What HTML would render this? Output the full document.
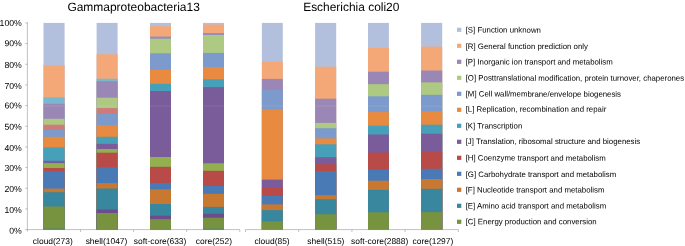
<!DOCTYPE html>
<html><head><meta charset="utf-8"><title>COG distribution</title>
<style>html,body{margin:0;padding:0;background:#fff}svg{display:block}text{text-rendering:geometricPrecision;font-family:"Liberation Sans",sans-serif;fill:#000}</style></head>
<body>
<svg width="685" height="246" viewBox="0 0 685 246">
<rect width="685" height="246" fill="#fff"/>
<text x="67.4" y="11.00" transform="rotate(0.03 67.4 11.00)" font-size="11.97">Gammaproteobacteria13</text>
<text x="303.2" y="11.00" transform="rotate(0.03 303.2 11.00)" font-size="11.95">Escherichia coli20</text>
<g>
<rect x="43.5" y="22.90" width="21.1" height="206.70" fill="#B3C0DD"/>
<rect x="43.5" y="65.30" width="21.1" height="164.30" fill="#F4A878"/>
<rect x="43.5" y="97.30" width="21.1" height="132.30" fill="#7AB8CF"/>
<rect x="43.5" y="103.80" width="21.1" height="125.80" fill="#9B87B5"/>
<rect x="43.5" y="118.80" width="21.1" height="110.80" fill="#AECA82"/>
<rect x="43.5" y="124.70" width="21.1" height="104.90" fill="#CF7B79"/>
<rect x="43.5" y="129.60" width="21.1" height="100.00" fill="#7C9ACB"/>
<rect x="43.5" y="136.80" width="21.1" height="92.80" fill="#E88B40"/>
<rect x="43.5" y="147.40" width="21.1" height="82.20" fill="#46A0BA"/>
<rect x="43.5" y="160.80" width="21.1" height="68.80" fill="#7A5C9B"/>
<rect x="43.5" y="163.10" width="21.1" height="66.50" fill="#92B050"/>
<rect x="43.5" y="168.00" width="21.1" height="61.60" fill="#B84A47"/>
<rect x="43.5" y="171.30" width="21.1" height="58.30" fill="#4A7AB5"/>
<rect x="43.5" y="188.60" width="21.1" height="41.00" fill="#C97832"/>
<rect x="43.5" y="192.20" width="21.1" height="37.40" fill="#38879F"/>
<rect x="43.5" y="206.50" width="21.1" height="23.10" fill="#77933F"/>
<rect x="43.5" y="228.75" width="21.1" height="0.85" fill="#4170A8"/>
</g>
<g>
<rect x="96.6" y="22.90" width="21.0" height="206.70" fill="#B3C0DD"/>
<rect x="96.6" y="54.30" width="21.0" height="175.30" fill="#F4A878"/>
<rect x="96.6" y="78.70" width="21.0" height="150.90" fill="#7AB8CF"/>
<rect x="96.6" y="81.30" width="21.0" height="148.30" fill="#9B87B5"/>
<rect x="96.6" y="97.70" width="21.0" height="131.90" fill="#AECA82"/>
<rect x="96.6" y="108.10" width="21.0" height="121.50" fill="#CF7B79"/>
<rect x="96.6" y="113.90" width="21.0" height="115.70" fill="#7C9ACB"/>
<rect x="96.6" y="125.50" width="21.0" height="104.10" fill="#E88B40"/>
<rect x="96.6" y="136.80" width="21.0" height="92.80" fill="#46A0BA"/>
<rect x="96.6" y="143.90" width="21.0" height="85.70" fill="#7A5C9B"/>
<rect x="96.6" y="149.00" width="21.0" height="80.60" fill="#92B050"/>
<rect x="96.6" y="152.70" width="21.0" height="76.90" fill="#B84A47"/>
<rect x="96.6" y="167.20" width="21.0" height="62.40" fill="#4A7AB5"/>
<rect x="96.6" y="183.10" width="21.0" height="46.50" fill="#C97832"/>
<rect x="96.6" y="188.50" width="21.0" height="41.10" fill="#38879F"/>
<rect x="96.6" y="209.50" width="21.0" height="20.10" fill="#6C4C8B"/>
<rect x="96.6" y="213.00" width="21.0" height="16.60" fill="#77933F"/>
</g>
<g>
<rect x="150" y="22.90" width="21.0" height="206.70" fill="#B3C0DD"/>
<rect x="150" y="26.20" width="21.0" height="203.40" fill="#F4A878"/>
<rect x="150" y="36.60" width="21.0" height="193.00" fill="#8E8CC2"/>
<rect x="150" y="38.70" width="21.0" height="190.90" fill="#AECA82"/>
<rect x="150" y="53.30" width="21.0" height="176.30" fill="#7C9ACB"/>
<rect x="150" y="69.90" width="21.0" height="159.70" fill="#E88B40"/>
<rect x="150" y="83.80" width="21.0" height="145.80" fill="#46A0BA"/>
<rect x="150" y="91.00" width="21.0" height="138.60" fill="#7A5C9B"/>
<rect x="150" y="157.00" width="21.0" height="72.60" fill="#92B050"/>
<rect x="150" y="166.80" width="21.0" height="62.80" fill="#B84A47"/>
<rect x="150" y="182.90" width="21.0" height="46.70" fill="#4A7AB5"/>
<rect x="150" y="189.30" width="21.0" height="40.30" fill="#C97832"/>
<rect x="150" y="204.00" width="21.0" height="25.60" fill="#38879F"/>
<rect x="150" y="215.70" width="21.0" height="13.90" fill="#6C4C8B"/>
<rect x="150" y="219.10" width="21.0" height="10.50" fill="#77933F"/>
</g>
<g>
<rect x="203" y="22.90" width="21.0" height="206.70" fill="#B3C0DD"/>
<rect x="203" y="24.50" width="21.0" height="205.10" fill="#F4A878"/>
<rect x="203" y="33.10" width="21.0" height="196.50" fill="#8E8CC2"/>
<rect x="203" y="35.00" width="21.0" height="194.60" fill="#AECA82"/>
<rect x="203" y="52.90" width="21.0" height="176.70" fill="#7C9ACB"/>
<rect x="203" y="67.00" width="21.0" height="162.60" fill="#E88B40"/>
<rect x="203" y="79.30" width="21.0" height="150.30" fill="#46A0BA"/>
<rect x="203" y="87.10" width="21.0" height="142.50" fill="#7A5C9B"/>
<rect x="203" y="163.30" width="21.0" height="66.30" fill="#92B050"/>
<rect x="203" y="170.80" width="21.0" height="58.80" fill="#B84A47"/>
<rect x="203" y="186.00" width="21.0" height="43.60" fill="#4A7AB5"/>
<rect x="203" y="193.80" width="21.0" height="35.80" fill="#C97832"/>
<rect x="203" y="206.90" width="21.0" height="22.70" fill="#38879F"/>
<rect x="203" y="213.80" width="21.0" height="15.80" fill="#6C4C8B"/>
<rect x="203" y="217.70" width="21.0" height="11.90" fill="#77933F"/>
<rect x="203" y="228.75" width="21.0" height="0.85" fill="#4170A8"/>
</g>
<g>
<rect x="261.9" y="22.90" width="20.9" height="206.70" fill="#B3C0DD"/>
<rect x="261.9" y="61.90" width="20.9" height="167.70" fill="#F4A878"/>
<rect x="261.9" y="78.90" width="20.9" height="150.70" fill="#9B87B5"/>
<rect x="261.9" y="89.50" width="20.9" height="140.10" fill="#7C9ACB"/>
<rect x="261.9" y="109.30" width="20.9" height="120.30" fill="#E88B40"/>
<rect x="261.9" y="179.60" width="20.9" height="50.00" fill="#7A5C9B"/>
<rect x="261.9" y="187.80" width="20.9" height="41.80" fill="#B84A47"/>
<rect x="261.9" y="196.00" width="20.9" height="33.60" fill="#4A7AB5"/>
<rect x="261.9" y="204.40" width="20.9" height="25.20" fill="#C97832"/>
<rect x="261.9" y="210.10" width="20.9" height="19.50" fill="#38879F"/>
<rect x="261.9" y="221.40" width="20.9" height="8.20" fill="#77933F"/>
</g>
<g>
<rect x="315.1" y="22.90" width="21.1" height="206.70" fill="#B3C0DD"/>
<rect x="315.1" y="66.70" width="21.1" height="162.90" fill="#F4A878"/>
<rect x="315.1" y="98.70" width="21.1" height="130.90" fill="#9B87B5"/>
<rect x="315.1" y="122.90" width="21.1" height="106.70" fill="#AECA82"/>
<rect x="315.1" y="128.20" width="21.1" height="101.40" fill="#7C9ACB"/>
<rect x="315.1" y="138.40" width="21.1" height="91.20" fill="#E88B40"/>
<rect x="315.1" y="144.30" width="21.1" height="85.30" fill="#46A0BA"/>
<rect x="315.1" y="157.20" width="21.1" height="72.40" fill="#7A5C9B"/>
<rect x="315.1" y="164.30" width="21.1" height="65.30" fill="#B84A47"/>
<rect x="315.1" y="171.00" width="21.1" height="58.60" fill="#4A7AB5"/>
<rect x="315.1" y="195.20" width="21.1" height="34.40" fill="#C97832"/>
<rect x="315.1" y="199.20" width="21.1" height="30.40" fill="#38879F"/>
<rect x="315.1" y="214.20" width="21.1" height="15.40" fill="#77933F"/>
</g>
<g>
<rect x="368" y="22.90" width="20.9" height="206.70" fill="#B3C0DD"/>
<rect x="368" y="47.80" width="20.9" height="181.80" fill="#F4A878"/>
<rect x="368" y="71.70" width="20.9" height="157.90" fill="#9B87B5"/>
<rect x="368" y="84.20" width="20.9" height="145.40" fill="#AECA82"/>
<rect x="368" y="96.30" width="20.9" height="133.30" fill="#7C9ACB"/>
<rect x="368" y="112.10" width="20.9" height="117.50" fill="#E88B40"/>
<rect x="368" y="125.70" width="20.9" height="103.90" fill="#46A0BA"/>
<rect x="368" y="134.50" width="20.9" height="95.10" fill="#7A5C9B"/>
<rect x="368" y="152.50" width="20.9" height="77.10" fill="#B84A47"/>
<rect x="368" y="169.40" width="20.9" height="60.20" fill="#4A7AB5"/>
<rect x="368" y="180.70" width="20.9" height="48.90" fill="#C97832"/>
<rect x="368" y="189.90" width="20.9" height="39.70" fill="#38879F"/>
<rect x="368" y="212.30" width="20.9" height="17.30" fill="#77933F"/>
</g>
<g>
<rect x="421.1" y="22.90" width="21.1" height="206.70" fill="#B3C0DD"/>
<rect x="421.1" y="46.60" width="21.1" height="183.00" fill="#F4A878"/>
<rect x="421.1" y="70.50" width="21.1" height="159.10" fill="#9B87B5"/>
<rect x="421.1" y="82.40" width="21.1" height="147.20" fill="#AECA82"/>
<rect x="421.1" y="94.80" width="21.1" height="134.80" fill="#7C9ACB"/>
<rect x="421.1" y="111.10" width="21.1" height="118.50" fill="#E88B40"/>
<rect x="421.1" y="124.70" width="21.1" height="104.90" fill="#46A0BA"/>
<rect x="421.1" y="133.70" width="21.1" height="95.90" fill="#7A5C9B"/>
<rect x="421.1" y="151.30" width="21.1" height="78.30" fill="#B84A47"/>
<rect x="421.1" y="168.80" width="21.1" height="60.80" fill="#4A7AB5"/>
<rect x="421.1" y="179.00" width="21.1" height="50.60" fill="#C97832"/>
<rect x="421.1" y="188.80" width="21.1" height="40.80" fill="#38879F"/>
<rect x="421.1" y="212.10" width="21.1" height="17.50" fill="#77933F"/>
</g>
<rect x="40" y="105.65" width="410" height="0.75" fill="#fff" opacity="0.13"/>
<g stroke="#909090" stroke-width="0.55" fill="none">
<path d="M27.4 22.6V231.6"/>
<path d="M25.2 229.60H27.5"/>
<path d="M25.2 208.93H27.5"/>
<path d="M25.2 188.26H27.5"/>
<path d="M25.2 167.59H27.5"/>
<path d="M25.2 146.92H27.5"/>
<path d="M25.2 126.25H27.5"/>
<path d="M25.2 105.58H27.5"/>
<path d="M25.2 84.91H27.5"/>
<path d="M25.2 64.24H27.5"/>
<path d="M25.2 43.57H27.5"/>
<path d="M25.2 22.90H27.5"/>
<path d="M27.5 229.6H239.8"/>
<path d="M80.6 229.6V232"/>
<path d="M133.6 229.6V232"/>
<path d="M186.7 229.6V232"/>
<path d="M239.8 229.6V232"/>
<path d="M245.5 229.6H458.4"/>
<path d="M245.5 229.6V232"/>
<path d="M298.7 229.6V232"/>
<path d="M351.9 229.6V232"/>
<path d="M405.1 229.6V232"/>
<path d="M458.3 229.6V232"/>
</g>
<g font-size="8.7" text-anchor="end">
<text x="21.8" y="233.70" transform="rotate(0.03 21.8 233.70)">0%</text>
<text x="21.8" y="212.90" transform="rotate(0.03 21.8 212.90)">10%</text>
<text x="21.8" y="192.10" transform="rotate(0.03 21.8 192.10)">20%</text>
<text x="21.8" y="171.00" transform="rotate(0.03 21.8 171.00)">30%</text>
<text x="21.8" y="150.90" transform="rotate(0.03 21.8 150.90)">40%</text>
<text x="21.8" y="129.67" transform="rotate(0.03 21.8 129.67)">50%</text>
<text x="21.8" y="108.43" transform="rotate(0.03 21.8 108.43)">60%</text>
<text x="21.8" y="88.90" transform="rotate(0.03 21.8 88.90)">70%</text>
<text x="21.8" y="68.10" transform="rotate(0.03 21.8 68.10)">80%</text>
<text x="21.8" y="46.18" transform="rotate(0.03 21.8 46.18)">90%</text>
<text x="21.8" y="25.92" transform="rotate(0.03 21.8 25.92)">100%</text>
</g>
<g font-size="8.45" text-anchor="middle">
<text x="52.8" y="244.00" transform="rotate(0.03 52.8 244.00)">cloud(273)</text>
<text x="106.5" y="244.00" transform="rotate(0.03 106.5 244.00)">shell(1047)</text>
<text x="160.1" y="244.00" transform="rotate(0.03 160.1 244.00)">soft-core(633)</text>
<text x="213.9" y="244.00" transform="rotate(0.03 213.9 244.00)">core(252)</text>
<text x="272.1" y="244.00" transform="rotate(0.03 272.1 244.00)">cloud(85)</text>
<text x="325.9" y="244.00" transform="rotate(0.03 325.9 244.00)">shell(515)</text>
<text x="379.7" y="244.00" transform="rotate(0.03 379.7 244.00)">soft-core(2888)</text>
<text x="432.9" y="244.00" transform="rotate(0.03 432.9 244.00)">core(1297)</text>
</g>
<g font-size="7.83">
<rect x="457" y="27.7" width="4.3" height="4.2" fill="#B3C0DD"/><text x="465.7" y="32.60" transform="rotate(0.03 465.7 32.60)">[S] Function unknown</text>
<rect x="457" y="43.7" width="4.3" height="4.2" fill="#F4A878"/><text x="465.7" y="49.00" transform="rotate(0.03 465.7 49.00)">[R] General function prediction only</text>
<rect x="457" y="59.7" width="4.3" height="4.2" fill="#9B87B5"/><text x="465.7" y="64.40" transform="rotate(0.03 465.7 64.40)">[P] Inorganic ion transport and metabolism</text>
<rect x="457" y="75.7" width="4.3" height="4.2" fill="#AECA82"/><text x="465.7" y="80.60" transform="rotate(0.03 465.7 80.60)">[O] Posttranslational modification, protein turnover, chaperones</text>
<rect x="457" y="91.7" width="4.3" height="4.2" fill="#7C9ACB"/><text x="465.7" y="96.60" transform="rotate(0.03 465.7 96.60)">[M] Cell wall/membrane/envelope biogenesis</text>
<rect x="457" y="107.7" width="4.3" height="4.2" fill="#E88B40"/><text x="465.7" y="111.80" transform="rotate(0.03 465.7 111.80)">[L] Replication, recombination and repair</text>
<rect x="457" y="123.7" width="4.3" height="4.2" fill="#46A0BA"/><text x="465.7" y="128.60" transform="rotate(0.03 465.7 128.60)">[K] Transcription</text>
<rect x="457" y="139.7" width="4.3" height="4.2" fill="#7A5C9B"/><text x="465.7" y="144.00" transform="rotate(0.03 465.7 144.00)">[J] Translation, ribosomal structure and biogenesis</text>
<rect x="457" y="155.7" width="4.3" height="4.2" fill="#B84A47"/><text x="465.7" y="160.60" transform="rotate(0.03 465.7 160.60)">[H] Coenzyme transport and metabolism</text>
<rect x="457" y="171.7" width="4.3" height="4.2" fill="#4A7AB5"/><text x="465.7" y="177.00" transform="rotate(0.03 465.7 177.00)">[G] Carbohydrate transport and metabolism</text>
<rect x="457" y="187.7" width="4.3" height="4.2" fill="#C97832"/><text x="465.7" y="192.40" transform="rotate(0.03 465.7 192.40)">[F] Nucleotide transport and metabolism</text>
<rect x="457" y="203.7" width="4.3" height="4.2" fill="#38879F"/><text x="465.7" y="208.40" transform="rotate(0.03 465.7 208.40)">[E] Amino acid transport and metabolism</text>
<rect x="457" y="219.7" width="4.3" height="4.2" fill="#77933F"/><text x="465.7" y="224.20" transform="rotate(0.03 465.7 224.20)">[C] Energy production and conversion</text>
</g>
</svg>
</body></html>
